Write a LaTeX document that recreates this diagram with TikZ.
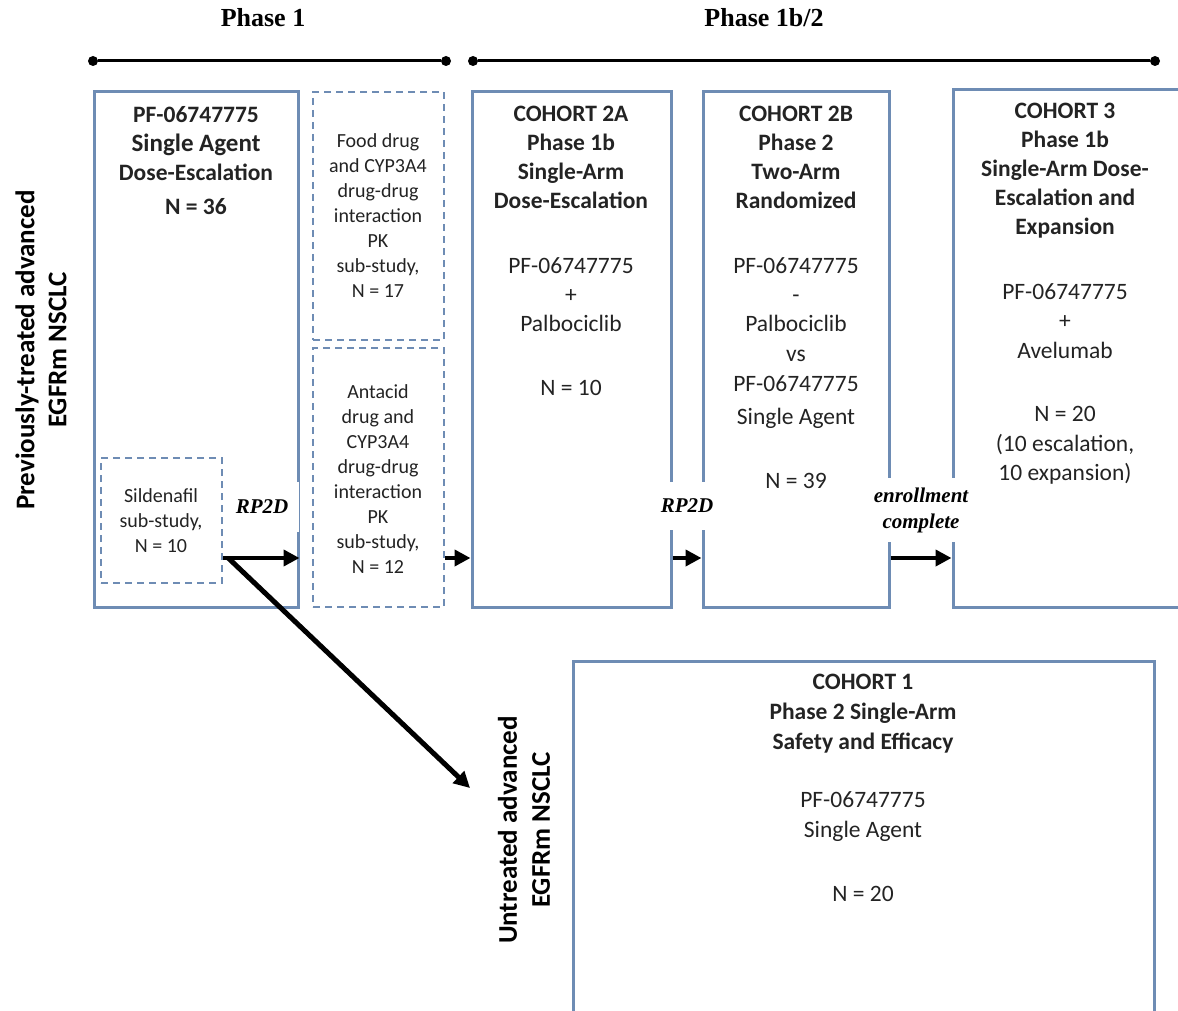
\documentclass[tikz,border=0pt]{standalone}
\usepackage{fontspec}
\setmainfont{Carlito}
\newfontfamily\serifb{Liberation Serif}
\usetikzlibrary{arrows.meta}
\definecolor{boxblue}{RGB}{110,140,180}
\definecolor{textgray}{RGB}{35,35,35}
\begin{document}
\begin{tikzpicture}[x=1pt,y=-1pt,
  cbox/.style={draw=boxblue,line width=3pt,inner sep=0pt},
  dbox/.style={draw=boxblue,line width=2.5pt,dash pattern=on 7pt off 5pt,inner sep=0pt},
  txt/.style={align=center,inner sep=0pt,anchor=north,text=textgray,font=\fontsize{23.5}{29}\selectfont},
  stxt/.style={align=center,inner sep=0pt,anchor=north,text=textgray,font=\fontsize{20}{25}\selectfont},
  arr/.style={-{Triangle[length=16pt,width=16pt]},line width=4.5pt},
  dot/.style={circle,fill=black,inner sep=0pt,minimum size=10pt},
  lab/.style={fill=white,inner sep=0pt,align=center,font=\serifb\bfseries\itshape\fontsize{21}{26}\selectfont},
  phase/.style={inner sep=0pt,font=\serifb\bfseries\fontsize{26}{30}\selectfont},
  side/.style={rotate=90,align=center,inner sep=0pt,font=\bfseries\fontsize{27}{32}\selectfont}]
\useasboundingbox (0,0) rectangle (1178,1011);
\clip (0,0) rectangle (1178,1011);

% phase bars
\node[phase] (ph1) at (263,18) {Phase 1};
\node[phase] (ph2) at (764,18) {Phase 1b/2};
\node[dot] (d1) at (93,61) {};
\node[dot] (d2) at (446,61) {};
\node[dot] (d3) at (473,61) {};
\node[dot] (d4) at (1155,61) {};
\draw[line width=3pt] (d1) -- (d2);
\draw[line width=3pt] (d3) -- (d4);

% boxes
\node[cbox,minimum width=204pt,minimum height=515pt] (p1) at (196,349.5) {};
\node[dbox,minimum width=131pt,minimum height=248pt] (food) at (378.5,216) {};
\node[dbox,minimum width=131pt,minimum height=259pt] (antacid) at (378.5,477.5) {};
\node[dbox,minimum width=121pt,minimum height=125pt] (sild) at (161.5,520.5) {};
\node[cbox,minimum width=199pt,minimum height=515pt] (c2a) at (571.5,349.5) {};
\node[cbox,minimum width=186pt,minimum height=515pt] (c2b) at (796,349.5) {};
\node[cbox,minimum width=260pt,minimum height=517pt] (c3) at (1083,348.5) {};
\node[cbox,minimum width=581pt,minimum height=400pt] (c1) at (863.5,861) {};

% texts
\node[txt] (t1) at (196,106) {\textbf{PF-06747775}\\\textbf{\fontsize{25}{29}\selectfont Single Agent}\\\textbf{Dose-Escalation}\\[5pt]\textbf{N = 36}};
\node[stxt] (tfood) at (378,133) {Food drug\\and CYP3A4\\drug-drug\\interaction\\PK\\sub-study,\\N = 17};
\node[stxt] (tant) at (378,384) {Antacid\\drug and\\CYP3A4\\drug-drug\\interaction\\PK\\sub-study,\\N = 12};
\node[stxt] (tsild) at (161,488) {Sildenafil\\sub-study,\\N = 10};
\node[txt] (t2a) at (571,106) {\textbf{COHORT 2A}\\\textbf{Phase 1b}\\\textbf{Single-Arm}\\\textbf{Dose-Escalation}\\[36pt]PF-06747775\\+\\Palbociclib\\[35pt]N = 10};
\node[txt] (t2b) at (796,106) {\textbf{COHORT 2B}\\\textbf{Phase 2}\\\textbf{Two-Arm}\\\textbf{Randomized}\\[36pt]PF-06747775\\-\\Palbociclib\\[1pt]vs\\[1pt]PF-06747775\\[4pt]Single Agent\\[35pt]N = 39};
\node[txt] (t3) at (1065,103) {\textbf{COHORT 3}\\\textbf{Phase 1b}\\\textbf{Single-Arm Dose-}\\\textbf{Escalation and}\\\textbf{Expansion}\\[36pt]PF-06747775\\+\\[1pt]Avelumab\\[34pt]N = 20\\[1pt](10 escalation,\\10 expansion)};
\node[txt,font=\fontsize{23.5}{30}\selectfont] (t1c) at (863,674) {\textbf{COHORT 1}\\\textbf{Phase 2 Single-Arm}\\\textbf{Safety and Efficacy}\\[28pt]PF-06747775\\Single Agent\\[34pt]N = 20};

% side labels
\node[side] (prev) at (41,350) {Previously-treated advanced\\EGFRm NSCLC};
\node[side,font=\bfseries\fontsize{27}{33}\selectfont] (untr) at (524,830) {Untreated advanced\\EGFRm NSCLC};

% labels with white background (break borders)
\node[lab,minimum width=74pt,minimum height=50pt] (rp1) at (262,507) {RP2D};
\node[lab,minimum width=62pt,minimum height=48pt] (rp2) at (687,506) {RP2D};
\node[lab,minimum width=112pt,minimum height=64pt] (enr) at (921,510) {enrollment\\complete};

% arrows
\coordinate (row) at (0,558);
\coordinate (diagend) at (470,788);
\draw[arr] (sild.east |- row) -- (p1.east |- row);
\draw[arr] (antacid.east |- row) -- (c2a.west |- row);
\draw[arr] (c2a.east |- row) -- (c2b.west |- row);
\draw[arr] (c2b.east |- row) -- (c3.west |- row);
\draw[arr,line width=5pt] ([xshift=5pt]sild.east |- row) -- (diagend);
\end{tikzpicture}
\end{document}
